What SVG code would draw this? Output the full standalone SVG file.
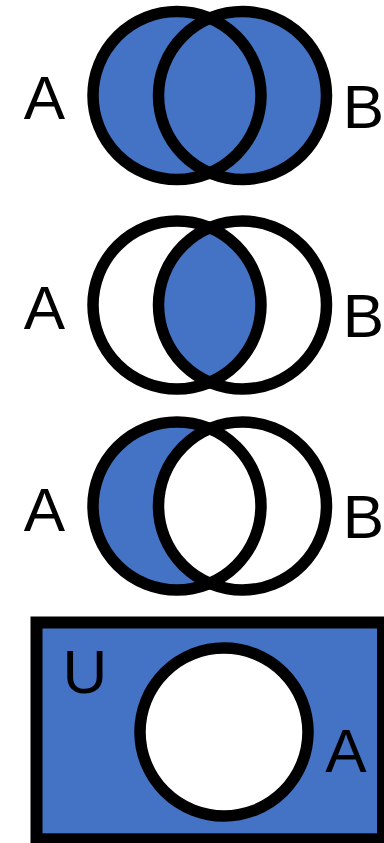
<svg xmlns="http://www.w3.org/2000/svg" width="384" height="843" viewBox="0 0 384 843">
<style>
.lbl{font-family:"Liberation Sans",Arial,sans-serif;font-size:62px;fill:#000;text-anchor:middle}
.rb{text-anchor:end}
.ring{fill:none;stroke:#000;stroke-width:11.5}
.blue{fill:#4472C4}
.white{fill:#fff}
</style>
<defs>
<clipPath id="clipA2"><circle cx="177" cy="305" r="84"/></clipPath>
</defs>
<rect width="384" height="843" fill="#fff"/>
<g id="union">
<circle class="blue" cx="177" cy="95.5" r="84"/>
<circle class="blue" cx="242.5" cy="95.5" r="84"/>
<circle class="ring" cx="177" cy="95.5" r="84"/>
<circle class="ring" cx="242.5" cy="95.5" r="84"/>
<text class="lbl" x="44.5" y="119">A</text>
<text class="lbl rb" x="384" y="127.5">B</text>
</g>
<g id="intersection">
<circle class="blue" cx="242.5" cy="305" r="84" clip-path="url(#clipA2)"/>
<circle class="ring" cx="177" cy="305" r="84"/>
<circle class="ring" cx="242.5" cy="305" r="84"/>
<text class="lbl" x="44.5" y="329">A</text>
<text class="lbl rb" x="384" y="337">B</text>
</g>
<g id="difference">
<circle class="blue" cx="177" cy="506" r="84"/>
<circle class="white" cx="242.5" cy="506" r="84"/>
<circle class="ring" cx="177" cy="506" r="84"/>
<circle class="ring" cx="242.5" cy="506" r="84"/>
<text class="lbl" x="44.5" y="531">A</text>
<text class="lbl rb" x="384" y="538">B</text>
</g>
<g id="complement">
<rect class="blue" x="36.5" y="622.5" width="346.5" height="216.8" stroke="#000" stroke-width="12"/>
<circle class="white" cx="224" cy="732" r="84" stroke="#000" stroke-width="11.5"/>
<text class="lbl" x="85" y="692.5">U</text>
<text class="lbl" x="346" y="771.5">A</text>
</g>
</svg>
